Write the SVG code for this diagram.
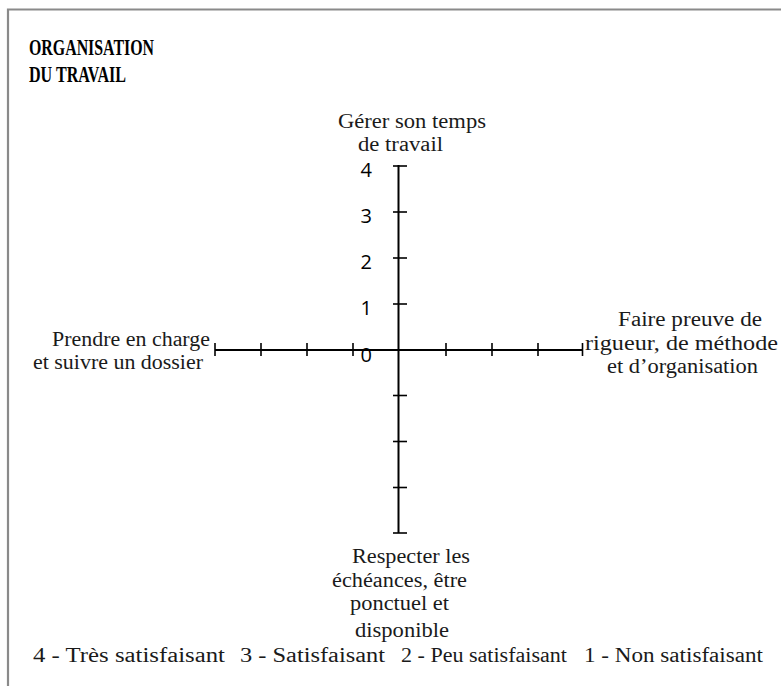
<svg xmlns="http://www.w3.org/2000/svg" width="781" height="686" viewBox="0 0 781 686">
<style>
.lbl{font-family:"Liberation Serif","Times New Roman",serif;font-size:20px;fill:#1a1a1a}
.ttl{font-family:"Liberation Serif","Times New Roman",serif;font-size:23px;font-weight:bold;fill:#000}
.num{font-family:"Open Sans","Liberation Sans",sans-serif;font-size:20px;fill:#000;text-anchor:end}
.ax{stroke:#000;stroke-width:2;fill:none}
.tk{stroke:#000;stroke-width:1.6;fill:none}
</style>
<rect width="781" height="686" fill="#fff"/>
<path d="M8,686 V9.5 H781" stroke="#8a8a8a" stroke-width="2.2" fill="none"/>
<g id="title">
<text class="ttl" x="29" y="55" textLength="125" lengthAdjust="spacingAndGlyphs">ORGANISATION</text>
<text class="ttl" x="29" y="82" textLength="97" lengthAdjust="spacingAndGlyphs">DU TRAVAIL</text>
</g>
<g id="connectors">
<line class="ax" x1="398.5" y1="165" x2="398.5" y2="533"/>
<line class="ax" x1="215" y1="350" x2="582.5" y2="350"/>
<g id="vticks">
<line class="tk" x1="393" y1="166" x2="407" y2="166"/>
<line class="tk" x1="393" y1="212" x2="407" y2="212"/>
<line class="tk" x1="393" y1="258" x2="407" y2="258"/>
<line class="tk" x1="393" y1="304" x2="407" y2="304"/>
<line class="tk" x1="393" y1="395.5" x2="407" y2="395.5"/>
<line class="tk" x1="393" y1="441.5" x2="407" y2="441.5"/>
<line class="tk" x1="393" y1="487.5" x2="407" y2="487.5"/>
<line class="tk" x1="393" y1="533" x2="407" y2="533"/>
</g>
<g id="hticks">
<line class="tk" x1="215" y1="343" x2="215" y2="356"/>
<line class="tk" x1="261" y1="343" x2="261" y2="356"/>
<line class="tk" x1="307" y1="343" x2="307" y2="356"/>
<line class="tk" x1="353" y1="343" x2="353" y2="356"/>
<line class="tk" x1="446" y1="343" x2="446" y2="356"/>
<line class="tk" x1="492" y1="343" x2="492" y2="356"/>
<line class="tk" x1="538" y1="343" x2="538" y2="356"/>
<line class="tk" x1="582.5" y1="343" x2="582.5" y2="356"/>
</g>
</g>
<g id="scale">
<text class="num" x="372" y="177">4</text>
<text class="num" x="372" y="223">3</text>
<text class="num" x="372" y="269">2</text>
<text class="num" x="372" y="315">1</text>
<text class="num" x="372" y="362">0</text>
</g>
<g id="node-top">
<text class="lbl" x="338" y="128" textLength="148" lengthAdjust="spacingAndGlyphs">Gérer son temps</text>
<text class="lbl" x="358" y="151" textLength="85" lengthAdjust="spacingAndGlyphs">de travail</text>
</g>
<g id="node-left">
<text class="lbl" x="52" y="346" textLength="158" lengthAdjust="spacingAndGlyphs">Prendre en charge</text>
<text class="lbl" x="33" y="369" textLength="170" lengthAdjust="spacingAndGlyphs">et suivre un dossier</text>
</g>
<g id="node-right">
<text class="lbl" x="618" y="326" textLength="144" lengthAdjust="spacingAndGlyphs">Faire preuve de</text>
<text class="lbl" x="585" y="350" textLength="193" lengthAdjust="spacingAndGlyphs">rigueur, de méthode</text>
<text class="lbl" x="607" y="373" textLength="151" lengthAdjust="spacingAndGlyphs">et d’organisation</text>
</g>
<g id="node-bottom">
<text class="lbl" x="352" y="563" textLength="118" lengthAdjust="spacingAndGlyphs">Respecter les</text>
<text class="lbl" x="332" y="587" textLength="135" lengthAdjust="spacingAndGlyphs">échéances, être</text>
<text class="lbl" x="350" y="610" textLength="99" lengthAdjust="spacingAndGlyphs">ponctuel et</text>
<text class="lbl" x="355" y="637" textLength="94" lengthAdjust="spacingAndGlyphs">disponible</text>
</g>
<g id="legend">
<text class="lbl" x="33" y="662" textLength="192" lengthAdjust="spacingAndGlyphs">4 - Très satisfaisant</text>
<text class="lbl" x="240" y="662" textLength="145" lengthAdjust="spacingAndGlyphs">3 - Satisfaisant</text>
<text class="lbl" x="401" y="662" textLength="166" lengthAdjust="spacingAndGlyphs">2 - Peu satisfaisant</text>
<text class="lbl" x="584" y="662" textLength="179" lengthAdjust="spacingAndGlyphs">1 - Non satisfaisant</text>
</g>
</svg>
